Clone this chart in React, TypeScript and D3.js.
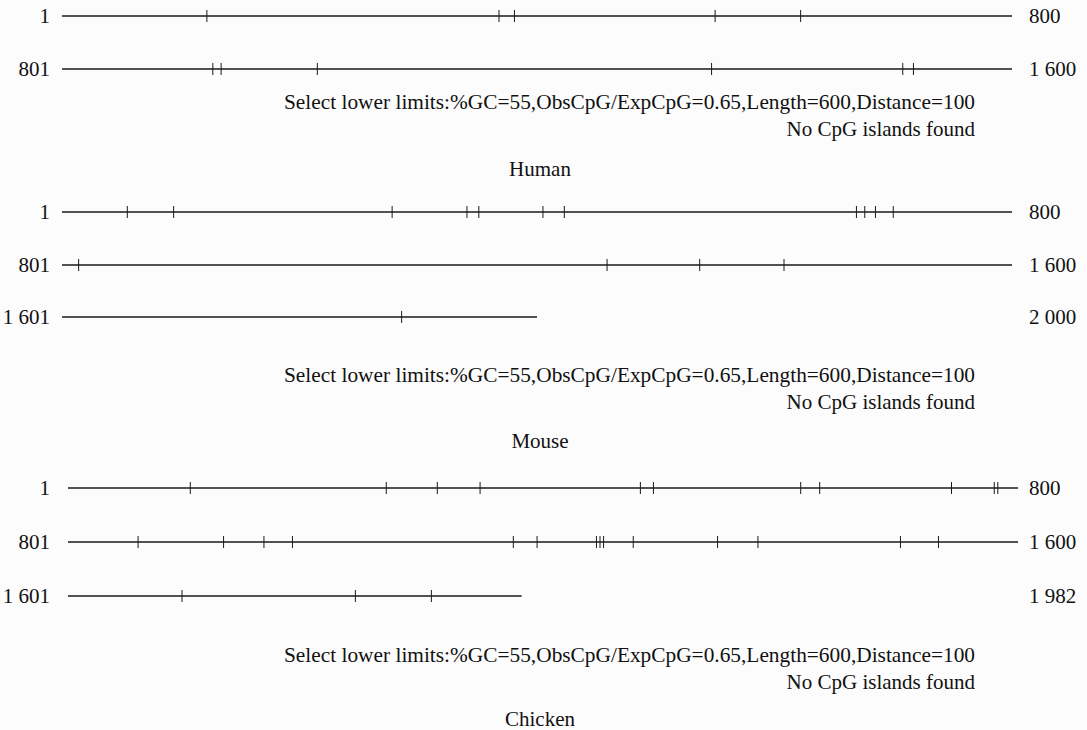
import React, { useEffect, useRef } from "react";
import * as d3 from "d3";

// CpG site positions (bp), one list per species
const humanSites = [122, 368, 381, 550, 622, 927, 934, 1015, 1347, 1508, 1517];
const mouseSites = [
  55, 94, 278, 341, 351, 405, 423, 669, 676, 685, 700,
  814, 1259, 1337, 1408,
  1886
];
const chickenSites = [
  103, 268, 311, 347, 482, 493, 617, 633, 744, 780, 783,
  859, 931, 965, 989, 1175, 1195, 1245, 1248, 1251, 1276, 1347, 1381, 1501, 1533,
  1696, 1842, 1906
];

const speciesNames = ["Human", "Mouse", "Chicken"];
const seqLengths = [1600, 2000, 1982];
const rowSize = 800;
const criteria = "Select lower limits:%GC=55,ObsCpG/ExpCpG=0.65,Length=600,Distance=100";
const resultText = "No CpG islands found";

const fmt = (n: number) => {
  const s = String(n);
  return s.length > 3 ? s.slice(0, s.length - 3) + " " + s.slice(-3) : s;
};

export default function App() {
  const ref = useRef<SVGSVGElement>(null);

  useEffect(() => {
    const svg = d3.select(ref.current);
    svg.selectAll("*").remove();

    const W = 1087, H = 730;
    svg.append("rect").attr("width", W).attr("height", H).attr("fill", "#fcfcfc");

    const font = "'Liberation Serif', 'Times New Roman', serif";
    const panels = [
      { sites: humanSites, x0: 62, rows: [16, 69], text: [102, 129], title: 169 },
      { sites: mouseSites, x0: 62, rows: [212, 265, 317], text: [375, 402], title: 441 },
      { sites: chickenSites, x0: 68, rows: [488, 542, 596], text: [655, 682], title: 719 }
    ];

    panels.forEach((p, pi) => {
      const g = svg.append("g");
      const len = seqLengths[pi];
      p.rows.forEach((y, ri) => {
        const start = ri * rowSize;
        const end = Math.min(len, start + rowSize);
        const x = d3.scaleLinear().domain([start, start + rowSize]).range([p.x0, p.x0 + 950]);

        g.append("line")
          .attr("x1", x(start)).attr("x2", x(end))
          .attr("y1", y).attr("y2", y)
          .attr("stroke", "#1a1a1a").attr("stroke-width", 1.3);

        const ticks = p.sites.filter(s => s > start && s <= end);
        g.selectAll(null)
          .data(ticks)
          .enter()
          .append("line")
          .attr("x1", d => x(d)).attr("x2", d => x(d))
          .attr("y1", y - 6).attr("y2", y + 6)
          .attr("stroke", "#1a1a1a").attr("stroke-width", 1);

        g.append("text")
          .attr("x", 50).attr("y", y)
          .attr("dy", "0.35em")
          .attr("text-anchor", "end")
          .attr("font-family", font).attr("font-size", 21)
          .attr("fill", "#111")
          .text(fmt(start + 1));

        g.append("text")
          .attr("x", 1029).attr("y", y)
          .attr("dy", "0.35em")
          .attr("font-family", font).attr("font-size", 21)
          .attr("fill", "#111")
          .text(fmt(ri === p.rows.length - 1 ? len : end));
      });

      g.append("text")
        .attr("x", 975).attr("y", p.text[0])
        .attr("dy", "0.35em")
        .attr("text-anchor", "end")
        .attr("font-family", font).attr("font-size", 21)
        .attr("textLength", 691).attr("lengthAdjust", "spacingAndGlyphs")
        .attr("fill", "#111")
        .text(criteria);

      g.append("text")
        .attr("x", 975).attr("y", p.text[1])
        .attr("dy", "0.35em")
        .attr("text-anchor", "end")
        .attr("font-family", font).attr("font-size", 21)
        .attr("fill", "#111")
        .text(resultText);

      g.append("text")
        .attr("x", 540).attr("y", p.title)
        .attr("dy", "0.35em")
        .attr("text-anchor", "middle")
        .attr("font-family", font).attr("font-size", 21)
        .attr("fill", "#111")
        .text(speciesNames[pi]);
    });
  }, []);

  return (
    <svg
      ref={ref}
      width={1087}
      height={730}
      style={{ position: "absolute", left: 0, top: 0, display: "block" }}
    />
  );
}
